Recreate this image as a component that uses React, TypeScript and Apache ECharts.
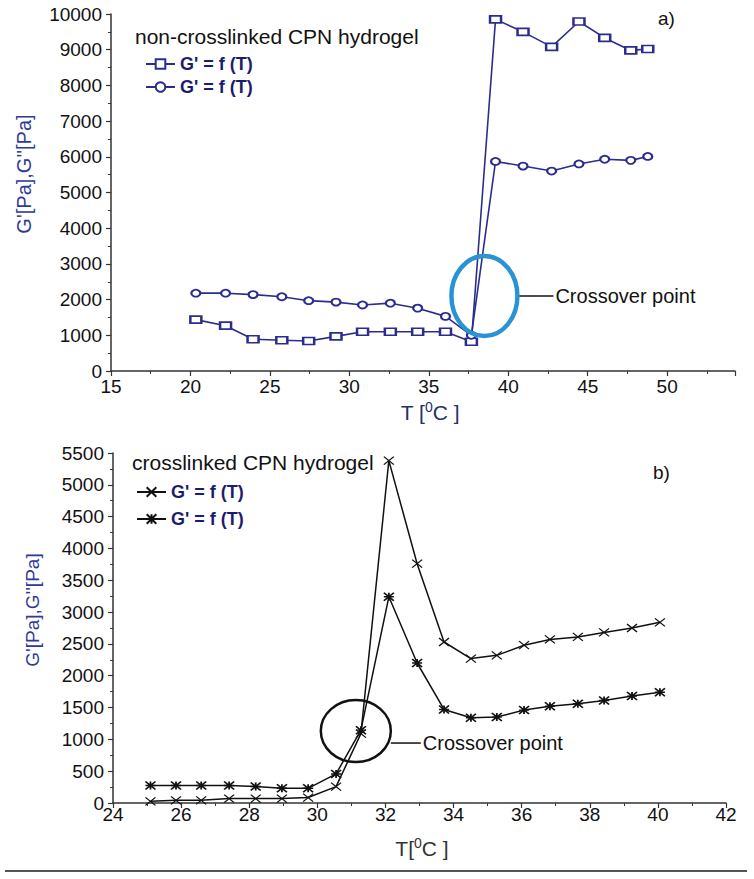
import React, { useEffect, useRef } from 'react';
import * as echarts from 'echarts';

// ---- Panel a) non-crosslinked CPN hydrogel ----
const topTemps = [20.34, 22.21, 23.94, 25.75, 27.44, 29.16, 30.83, 32.58, 34.3, 36.05, 37.68, 39.2, 40.93, 42.73, 44.45, 46.07, 47.71, 48.78];
const topStorage = [1440, 1270, 890, 860, 840, 970, 1100, 1100, 1100, 1100, 820, 9850, 9500, 9080, 9790, 9330, 8980, 9020];
const topLoss = [2180, 2180, 2140, 2080, 1970, 1930, 1850, 1900, 1760, 1530, 1000, 5870, 5740, 5600, 5800, 5930, 5900, 6010];
const topXMin = 15;
const topXMax = 54.27;
const topXStep = 5;
const topYMax = 10000;
const topYStep = 1000;
const topCrossover = [38.5, 2100];

// ---- Panel b) crosslinked CPN hydrogel ----
const botTemps = [25.1, 25.85, 26.59, 27.41, 28.19, 28.96, 29.73, 30.55, 31.28, 32.1, 32.93, 33.72, 34.51, 35.27, 36.07, 36.83, 37.65, 38.42, 39.24, 40.06];
const botStorage = [27, 43, 43, 70, 70, 70, 86, 258, 1090, 5380, 3760, 2530, 2270, 2320, 2480, 2570, 2610, 2680, 2750, 2840];
const botLoss = [274, 274, 274, 274, 258, 231, 231, 457, 1145, 3240, 2200, 1470, 1340, 1350, 1460, 1520, 1560, 1610, 1680, 1740];
const botXMin = 24;
const botXMax = 42;
const botXStep = 2;
const botYMax = 5500;
const botYStep = 500;
const botCrossover = [31.13, 1131];

const legendLabel = "G' = f (T)";
const yTitle = "G'[Pa],G''[Pa]";
const topLegendTitle = 'non-crosslinked CPN hydrogel';
const botLegendTitle = 'crosslinked CPN hydrogel';

export default function App() {
  const ref = useRef<HTMLDivElement>(null);
  useEffect(() => {
    document.body.style.margin = '0';
    const chart = echarts.init(ref.current!, null, { renderer: 'svg' });
    const font = "'Liberation Sans', Arial, sans-serif";
    const navy = '#2b2d8e';
    const ink = '#111111';
    const axisLine = { show: true, onZero: false, lineStyle: { color: '#333', width: 1.5 } };
    const axisTick = { show: true, length: 5, lineStyle: { color: '#333', width: 1.2 } };
    const minorTick = { show: true, splitNumber: 2, length: 3, lineStyle: { color: '#333', width: 1 } };
    const labelBase = { color: ink, fontSize: 19, fontFamily: font };
    const multipleOf = (step: number) => (v: number) =>
      Math.abs(v / step - Math.round(v / step)) < 1e-6 ? String(Math.round(v)) : '';
    const plain = (v: number) => String(Math.round(v));

    chart.setOption({
      animation: false,
      backgroundColor: '#ffffff',
      grid: [
        { left: 111, top: 14, width: 624, height: 357 },
        { left: 113, top: 453, width: 613, height: 350 },
      ],
      xAxis: [
        {
          type: 'value', gridIndex: 0, min: topXMin, max: topXMax, interval: topXStep,
          axisLine, axisTick, minorTick, splitLine: { show: false },
          axisLabel: { ...labelBase, margin: 6, formatter: multipleOf(topXStep) },
        },
        {
          type: 'value', gridIndex: 1, min: botXMin, max: botXMax, interval: botXStep,
          axisLine, axisTick, minorTick, splitLine: { show: false },
          axisLabel: { ...labelBase, margin: 2, formatter: multipleOf(botXStep) },
        },
      ],
      yAxis: [
        {
          type: 'value', gridIndex: 0, min: 0, max: topYMax, interval: topYStep,
          axisLine, axisTick, minorTick, splitLine: { show: false },
          axisLabel: { ...labelBase, margin: 9, formatter: plain },
        },
        {
          type: 'value', gridIndex: 1, min: 0, max: botYMax, interval: botYStep,
          axisLine, axisTick, minorTick, splitLine: { show: false },
          axisLabel: { ...labelBase, margin: 9, formatter: plain },
        },
      ],
      legend: [
        {
          data: ['nc-storage', 'nc-loss'], orient: 'vertical', left: 140, top: 50,
          itemWidth: 29, itemHeight: 12, itemGap: 5,
          formatter: () => legendLabel,
          textStyle: { color: '#1c1c6e', fontWeight: 'bold', fontSize: 18, fontFamily: font },
        },
        {
          data: ['c-storage', 'c-loss'], orient: 'vertical', left: 131, top: 478,
          itemWidth: 29, itemHeight: 12, itemGap: 9,
          formatter: () => legendLabel,
          textStyle: { color: '#1c1c6e', fontWeight: 'bold', fontSize: 18, fontFamily: font },
        },
      ],
      series: [
        {
          name: 'nc-storage', type: 'line', xAxisIndex: 0, yAxisIndex: 0,
          data: topTemps.map((t, i) => [t, topStorage[i]]),
          symbol: 'emptyRect', symbolSize: [11, 7],
          lineStyle: { color: navy, width: 1.6 },
          itemStyle: { color: navy, borderWidth: 1.5 },
        },
        {
          name: 'nc-loss', type: 'line', xAxisIndex: 0, yAxisIndex: 0,
          data: topTemps.map((t, i) => [t, topLoss[i]]),
          symbol: 'emptyCircle', symbolSize: [9, 7],
          lineStyle: { color: navy, width: 1.6 },
          itemStyle: { color: navy, borderWidth: 1.5 },
        },
        {
          name: 'c-storage', type: 'line', xAxisIndex: 1, yAxisIndex: 1,
          data: botTemps.map((t, i) => [t, botStorage[i]]),
          symbol: 'path://M0,0L10,8M10,0L0,8', symbolSize: [10, 8],
          lineStyle: { color: ink, width: 1.5 },
          itemStyle: { color: ink, borderColor: ink, borderWidth: 1.2 },
        },
        {
          name: 'c-loss', type: 'line', xAxisIndex: 1, yAxisIndex: 1,
          data: botTemps.map((t, i) => [t, botLoss[i]]),
          symbol: 'path://M0,0L10,8M10,0L0,8M0,4L10,4M5,0L5,8', symbolSize: [10, 8],
          lineStyle: { color: ink, width: 1.5 },
          itemStyle: { color: ink, borderColor: ink, borderWidth: 1.6 },
        },
      ],
    });

    const c1 = chart.convertToPixel({ gridIndex: 0 }, topCrossover) as number[];
    const c2 = chart.convertToPixel({ gridIndex: 1 }, botCrossover) as number[];
    const r1 = { rx: 33, ry: 40 };
    const r2 = { rx: 35, ry: 31 };
    const textStyle = (text: string, size: number, fill: string) => ({
      text, fontSize: size, fontFamily: font, fill, align: 'left', verticalAlign: 'middle',
    });
    const xTitleRich = (text: string, fill: string) => ({
      text, fill, fontFamily: font, align: 'center', verticalAlign: 'middle',
      rich: {
        n: { fontSize: 21, fontFamily: font, fill, lineHeight: 24 },
        s: { fontSize: 14, fontFamily: font, fill, lineHeight: 24, verticalAlign: 'top' },
      },
    });

    chart.setOption({
      graphic: [
        { type: 'text', x: 135, y: 36, style: textStyle(topLegendTitle, 21, ink) },
        { type: 'text', x: 132, y: 462, style: textStyle(botLegendTitle, 21, ink) },
        { type: 'text', x: 658, y: 18, style: textStyle('a)', 19, ink) },
        { type: 'text', x: 653, y: 472, style: textStyle('b)', 19, ink) },
        {
          type: 'text', x: 24, y: 174, rotation: Math.PI / 2,
          style: { text: yTitle, fontSize: 20, fontFamily: font, fill: '#2e3a9a', align: 'center', verticalAlign: 'middle' },
        },
        {
          type: 'text', x: 32, y: 610, rotation: Math.PI / 2,
          style: { text: yTitle, fontSize: 19, fontFamily: font, fill: '#2e3a9a', align: 'center', verticalAlign: 'middle' },
        },
        { type: 'text', x: 430, y: 412, style: xTitleRich('{n|T [}{s|0}{n|C ]}', '#25306a') },
        { type: 'text', x: 422, y: 848, style: xTitleRich('{n|T[}{s|0}{n|C ]}', '#333333') },
        {
          type: 'ellipse', shape: { cx: c1[0], cy: c1[1], rx: r1.rx, ry: r1.ry },
          style: { fill: 'none', stroke: '#2a93d5', lineWidth: 4.5 }, z: 10,
        },
        {
          type: 'line', shape: { x1: c1[0] + r1.rx, y1: c1[1], x2: c1[0] + r1.rx + 36, y2: c1[1] },
          style: { stroke: ink, lineWidth: 1.5 },
        },
        { type: 'text', x: c1[0] + r1.rx + 38, y: c1[1], style: textStyle('Crossover point', 20, ink) },
        {
          type: 'ellipse', shape: { cx: c2[0], cy: c2[1], rx: r2.rx, ry: r2.ry },
          style: { fill: 'none', stroke: ink, lineWidth: 2.5 }, z: 10,
        },
        {
          type: 'line', shape: { x1: c2[0] + r2.rx, y1: c2[1] + 12, x2: c2[0] + r2.rx + 30, y2: c2[1] + 12 },
          style: { stroke: ink, lineWidth: 1.5 },
        },
        { type: 'text', x: c2[0] + r2.rx + 32, y: c2[1] + 12, style: textStyle('Crossover point', 20, ink) },
        {
          type: 'line', shape: { x1: 5, y1: 871, x2: 747, y2: 871 },
          style: { stroke: '#555555', lineWidth: 2 },
        },
      ],
    });
    return () => chart.dispose();
  }, []);
  return <div ref={ref} style={{ width: 754, height: 879 }} />;
}
